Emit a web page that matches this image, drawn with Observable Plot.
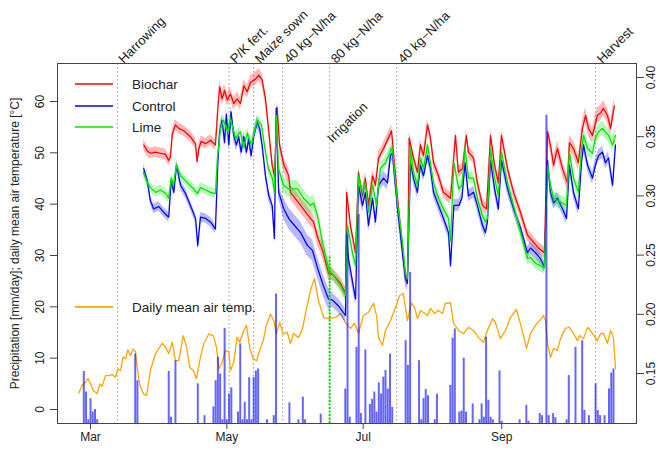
<!DOCTYPE html>
<html>
<head>
<meta charset="utf-8">
<script src="https://cdn.jsdelivr.net/npm/d3@7"></script>
<script src="https://cdn.jsdelivr.net/npm/@observablehq/plot@0.6"></script>
<style>
  html, body { margin: 0; padding: 0; background: #fff; }
  svg { display: block; }
</style>
</head>
<body>
<div id="chart"></div>
<script>
// ---- Data (day = days since 1 March; soil moisture in m3/m3; precipitation mm/day; temperature °C) ----

const biochar = [[23.8,.343],[25.4,.338],[26.8,.336],[29.1,.337],[31.3,.336],[33.6,.335],[35.0,.330],[35.8,.333],[36.6,.352],[38.0,.360],[39.5,.357],[41.7,.355],[44.7,.350],[47.0,.344],[47.7,.329],[48.5,.340],[49.5,.346],[51.5,.344],[53.7,.347],[55.9,.343],[57.0,.374],[57.8,.392],[58.9,.382],[60.0,.389],[61.2,.381],[62.6,.386],[64.1,.378],[65.6,.382],[67.1,.378],[68.6,.393],[70.1,.388],[71.6,.396],[73.4,.398],[75.3,.402],[76.8,.398],[78.3,.382],[79.8,.354],[81.3,.326],[82.3,.317],[83.5,.375],[84.6,.343],[86.5,.326],[88.7,.317],[89.5,.303],[94.0,.292],[98.4,.281],[99.8,.278],[101.6,.265],[103.8,.254],[106.5,.235],[108.7,.233],[111.9,.226],[114.1,.218],[114.6,.303],[116.3,.275],[118.6,.252],[119.9,.320],[121.7,.300],[123.0,.315],[124.4,.292],[126.2,.317],[127.5,.309],[128.9,.332],[131.1,.340],[133.3,.349],[134.7,.355],[137.4,.298],[140.9,.233],[141.8,.227],[142.6,.349],[144.5,.332],[146.3,.320],[147.6,.343],[149.0,.334],[150.8,.360],[152.1,.349],[153.5,.328],[155.7,.317],[157.9,.303],[161.1,.298],[163.3,.351],[164.6,.320],[166.4,.323],[168.2,.351],[169.1,.337],[171.4,.332],[173.1,.311],[175.4,.292],[177.2,.289],[179.0,.351],[180.8,.326],[182.5,.311],[183.9,.351],[186.6,.323],[189.3,.303],[192.4,.286],[195.5,.267],[198.2,.261],[200.4,.256],[203.1,.252],[204.5,.354],[205.8,.343],[207.2,.326],[208.9,.340],[211.2,.323],[213.4,.311],[214.3,.345],[216.1,.340],[218.3,.328],[220.1,.357],[221.5,.368],[222.8,.357],[224.6,.351],[226.8,.368],[228.2,.370],[229.5,.374],[231.3,.368],[232.7,.357],[234.4,.376]];

const control = [[23.8,.323],[25.4,.313],[26.8,.296],[28.3,.289],[30.6,.291],[32.8,.286],[35.0,.282],[36.1,.313],[37.3,.303],[38.5,.326],[40.3,.309],[42.5,.302],[44.7,.292],[47.0,.281],[48.0,.258],[49.2,.282],[51.5,.281],[53.7,.278],[55.9,.272],[57.0,.329],[57.8,.354],[58.9,.364],[60.0,.345],[60.8,.369],[61.9,.343],[62.9,.371],[64.1,.351],[65.3,.343],[66.3,.350],[67.4,.337],[68.6,.350],[69.8,.337],[70.8,.348],[71.9,.334],[73.1,.351],[74.6,.362],[75.7,.357],[76.8,.343],[78.3,.317],[79.8,.300],[81.3,.292],[82.3,.264],[83.1,.374],[84.2,.303],[86.5,.289],[88.7,.281],[89.5,.279],[94.0,.269],[97.1,.258],[99.3,.254],[101.6,.239],[104.2,.224],[106.5,.213],[108.3,.212],[111.0,.207],[114.1,.199],[114.6,.269],[115.4,.247],[118.6,.213],[119.9,.309],[121.7,.292],[123.0,.303],[124.4,.275],[126.2,.298],[127.5,.278],[128.9,.309],[131.1,.315],[132.9,.311],[134.2,.334],[135.1,.336],[137.4,.289],[139.6,.252],[140.9,.230],[141.8,.226],[143.2,.328],[144.5,.315],[146.3,.303],[147.6,.326],[149.0,.317],[150.8,.334],[152.1,.323],[153.5,.303],[155.7,.292],[157.9,.281],[160.2,.269],[161.1,.241],[162.6,.292],[164.8,.292],[166.2,.298],[167.6,.328],[169.1,.300],[171.4,.303],[173.1,.292],[175.4,.275],[176.7,.269],[177.6,.278],[179.0,.330],[180.8,.306],[182.5,.289],[183.9,.330],[186.6,.306],[189.3,.289],[192.4,.273],[195.5,.252],[196.9,.256],[199.1,.252],[201.3,.247],[203.1,.240],[204.5,.330],[205.8,.303],[207.2,.294],[208.9,.298],[211.2,.289],[213.0,.281],[214.3,.326],[216.1,.303],[218.3,.289],[219.7,.328],[220.6,.343],[222.4,.326],[224.6,.315],[225.9,.326],[227.3,.334],[229.1,.337],[230.4,.328],[231.8,.332],[233.6,.309],[234.9,.343]];

const lime = [[23.6,.320],[25.5,.311],[26.8,.307],[29.1,.303],[31.3,.305],[33.6,.302],[34.9,.298],[36.2,.315],[37.1,.309],[38.5,.326],[40.3,.317],[43.4,.311],[46.1,.306],[47.9,.302],[49.2,.307],[51.5,.305],[53.7,.303],[55.9,.302],[56.8,.332],[58.2,.357],[59.5,.364],[61.3,.354],[62.6,.365],[64.9,.349],[67.1,.354],[68.5,.341],[70.2,.353],[72.0,.343],[73.4,.355],[74.7,.364],[76.5,.360],[78.3,.337],[79.6,.323],[81.4,.315],[82.3,.303],[83.2,.368],[84.1,.323],[86.3,.309],[88.6,.306],[92.6,.306],[95.3,.298],[98.4,.292],[99.8,.294],[101.6,.283],[103.8,.261],[106.5,.239],[108.7,.233],[111.9,.224],[114.1,.216],[115.0,.275],[117.2,.252],[118.6,.241],[119.9,.317],[121.7,.303],[123.0,.311],[124.4,.286],[126.2,.309],[128.0,.292],[129.7,.323],[132.0,.328],[134.2,.338],[135.1,.340],[137.4,.294],[139.6,.261],[140.9,.235],[141.8,.230],[143.2,.340],[144.5,.320],[146.3,.309],[147.6,.332],[149.0,.323],[150.8,.343],[152.1,.328],[153.5,.311],[155.7,.298],[157.9,.289],[160.2,.281],[161.1,.262],[162.6,.328],[164.8,.306],[166.2,.309],[167.6,.340],[169.1,.315],[171.4,.315],[173.1,.298],[175.4,.283],[176.7,.278],[177.6,.281],[179.0,.340],[180.8,.315],[182.5,.300],[183.9,.337],[186.6,.311],[189.3,.292],[192.4,.269],[195.5,.247],[196.9,.248],[199.1,.243],[201.3,.241],[203.1,.239],[204.5,.326],[205.8,.309],[207.2,.298],[208.9,.296],[211.2,.294],[213.0,.292],[214.3,.337],[216.1,.315],[218.3,.303],[219.7,.340],[220.6,.351],[222.4,.340],[224.6,.336],[225.9,.349],[227.3,.354],[229.1,.357],[230.4,.354],[231.8,.351],[233.6,.343],[234.9,.351]];

// half-width of the confidence band, by period start
const ciBiochar = [[0,.0045],[57,.0055],[85,.0065],[107,.005],[204,.0065]];
const ciControl = [[0,.004],[57,.005],[85,.009],[107,.006],[142,.005]];
const ciLime    = [[0,.004],[57,.0045],[85,.007],[107,.005],[204,.006]];

const temperature = [[-5.2,3.2],[-3.7,4.7],[-2.2,5.3],[-1.2,6.0],[0,5.1],[1.2,3.7],[3.0,3.1],[4.2,5.0],[5.2,4.5],[6.7,6.6],[8.2,6.6],[9.7,6.8],[11.2,6.3],[12.2,7.9],[13.4,7.6],[14.6,10.2],[15.7,9.9],[16.7,11.6],[17.9,10.5],[19.1,11.8],[20.1,11.2],[20.9,8.2],[22.1,4.7],[23.6,3.1],[25.1,2.7],[26.8,7.6],[29.1,10.9],[32.1,12.9],[33.6,12.1],[35.0,10.9],[36.6,13.1],[38.0,9.5],[39.5,9.5],[41.5,14.4],[43.0,12.1],[44.4,8.2],[46.0,7.6],[47.4,6.0],[49.2,10.2],[50.7,12.8],[52.9,14.7],[54.9,14.4],[56.4,12.1],[57.4,7.9],[58.9,9.2],[60.4,11.5],[61.9,11.2],[62.6,7.6],[64.1,9.2],[65.6,14.1],[66.8,13.1],[68.3,15.1],[69.8,16.4],[71.3,11.8],[72.8,9.9],[74.3,9.5],[75.7,11.5],[77.3,13.4],[78.7,16.4],[80.5,18.6],[82.0,17.3],[83.2,14.7],[84.7,17.0],[86.2,14.7],[88.0,15.1],[89.5,12.8],[90.8,14.8],[93.1,14.0],[94.9,15.8],[96.2,18.7],[98.4,23.2],[100.2,25.5],[102.0,21.2],[104.3,17.9],[106.5,17.7],[109.6,17.9],[111.9,18.7],[114.1,16.9],[116.3,15.8],[118.1,16.8],[119.9,14.8],[122.1,18.3],[124.4,18.9],[126.6,20.7],[128.0,18.3],[128.9,14.0],[130.6,12.5],[132.0,15.4],[134.2,17.3],[136.5,19.9],[138.3,22.2],[140.0,22.6],[140.9,19.9],[141.8,17.3],[143.6,20.7],[145.0,19.9],[146.3,17.7],[147.7,19.3],[149.0,18.9],[150.8,18.3],[152.1,19.7],[153.9,18.7],[155.7,19.3],[157.5,18.7],[158.8,20.7],[160.2,20.7],[161.1,20.8],[162.4,16.8],[164.7,15.4],[166.9,14.8],[169.1,16.0],[171.4,15.4],[173.6,14.0],[175.8,13.1],[177.6,15.4],[179.9,17.7],[181.2,16.9],[183.4,13.8],[185.7,15.4],[187.9,17.9],[190.6,19.5],[192.8,16.0],[195.1,11.9],[196.9,14.8],[199.1,16.4],[200.9,17.3],[202.7,18.3],[203.6,17.3],[204.5,12.9],[205.8,10.1],[207.2,11.9],[208.9,11.5],[210.3,13.8],[212.5,15.8],[214.3,16.0],[216.1,14.8],[217.9,13.4],[218.8,14.4],[220.6,13.8],[222.4,16.0],[224.6,14.8],[226.8,13.4],[228.2,14.8],[229.5,14.8],[231.3,12.9],[232.7,15.4],[234.0,14.0],[234.9,8.0]];

// bar tops as read on the left axis
const precipitation = [[-3,7.4],[-2,3.4],[-1,-2.0],[0,2.1],[1,-0.5],[2,0.0],[3,-2.0],[20,10.8],[21,5.6],[35,7.4],[36,-1.5],[38,9.5],[48,5.0],[51,-1.2],[55,0.5],[56,5.6],[57,10.2],[58,6.9],[59,-2.0],[60,15.8],[61,-2.0],[62,3.0],[63,4.2],[66,-0.5],[67,12.8],[68,-2.0],[69,1.4],[70,-2.0],[71,6.2],[72,-2.0],[73,6.2],[74,7.5],[75,7.9],[79,-2.0],[82,-1.2],[83,22.5],[89,1.3],[93,-2.0],[95,2.4],[96,-2.0],[103,-0.9],[114,4.0],[115,34.0],[116,-1.5],[119,12.1],[120,38.0],[121,-0.8],[123,11.6],[125,1.0],[126,2.0],[127,3.4],[128,-0.5],[129,5.2],[130,3.0],[131,6.3],[132,7.6],[133,4.0],[134,10.8],[135,0.4],[141,13.4],[142,8.6],[143,26.7],[147,9.5],[148,-2.0],[149,2.1],[150,3.9],[151,2.7],[154,-2.0],[155,3.0],[161,4.7],[162,13.9],[163,15.7],[165,-0.5],[166,-0.3],[167,10.0],[168,-0.5],[171,1.1],[174,-2.0],[175,1.1],[176,-1.5],[177,14.1],[178,1.8],[179,-1.5],[180,-2.0],[183,7.5],[184,-2.3],[192,-2.0],[195,0.8],[196,-2.3],[201,-0.8],[202,-1.2],[204,57.3],[205,-1.2],[207,-0.8],[208,-1.6],[213,-2.0],[214,6.6],[217,12.1],[220,13.4],[221,-0.2],[223,-1.2],[226,5.0],[227,-0.2],[228,-1.2],[230,-1.2],[232,4.0],[233,7.1],[234,7.9]];

const irrigation = [[107, 30.0]];

const events = [[12,"Harrowing"],[62,"P/K fert."],[73,"Maize sown"],[86,"40 kg\u2212N/ha"],[107,"80 kg\u2212N/ha"],[137,"40 kg\u2212N/ha"],[226,"Harvest"]];

const leftTicks = [0, 10, 20, 30, 40, 50, 60];
const rightTicks = [0.15, 0.20, 0.25, 0.30, 0.35, 0.40];
const monthTicks = [Date.UTC(2013,2,1), Date.UTC(2013,4,1), Date.UTC(2013,6,1), Date.UTC(2013,8,1)].map(t => new Date(t));

// ---- Layout and scales ----
const FONT = "'Liberation Sans', Arial, Helvetica, sans-serif";
const W = 657, H = 455;
const M = {left: 57, right: 21, top: 63, bottom: 32};
const start = Date.UTC(2013, 2, 1);
const day = d => new Date(start + d * 864e5);

const yLim = [-2.73, 67.4];        // left axis: mm/day and °C
const smLim = [0.1078, 0.4118];    // right axis: volumetric soil moisture
const sm = s => yLim[0] + (s - smLim[0]) / (smLim[1] - smLim[0]) * (yLim[1] - yLim[0]);

const halfWidth = (ci, d) => { let w = ci[0][1]; for (const [s, v] of ci) if (d >= s) w = v; return w; };

const series = [
  {name: "Biochar", color: "#ff0000", values: biochar, ci: ciBiochar},
  {name: "Control", color: "#0000ff", values: control, ci: ciControl},
  {name: "Lime",    color: "#00e600", values: lime,    ci: ciLime}
];
const rowsOf = s => s.values.map(([d, v]) => {
  const w = halfWidth(s.ci, d);
  return {date: day(d), v: sm(v), lo: sm(v - w), hi: sm(v + w)};
});

const seriesMarks = series.flatMap(s => {
  const r = rowsOf(s);
  return [
    Plot.areaY(r, {x: "date", y1: "lo", y2: "hi", fill: s.color, fillOpacity: 0.28}),
    Plot.line(r, {x: "date", y: "v", stroke: s.color, strokeWidth: 1.25})
  ];
});

const chart = Plot.plot({
  width: W,
  height: H,
  marginLeft: M.left,
  marginRight: M.right,
  marginTop: M.top,
  marginBottom: M.bottom,
  style: {fontFamily: FONT, fontSize: "12px", color: "#222", background: "#fff"},
  x: {type: "utc", domain: [day(-14.77), day(244.3)]},
  y: {domain: yLim},
  marks: [
    // management events
    Plot.ruleX(events, {x: d => day(d[0]), stroke: "#9a9a9a", strokeWidth: 1, strokeDasharray: "1.5,2.5"}),
    Plot.text(events, {x: d => day(d[0]), text: d => d[1], frameAnchor: "top", dy: -6, rotate: -45,
      textAnchor: "start", fontSize: 13, fill: "#222"}),

    // air temperature
    Plot.line(temperature, {x: d => day(d[0]), y: d => d[1], stroke: "#ffa500", strokeWidth: 1.3}),

    // soil moisture with confidence bands
    ...seriesMarks,

    // precipitation and irrigation
    Plot.ruleX(precipitation, {x: d => day(d[0]), y1: yLim[0], y2: d => d[1], stroke: "#0000ff", strokeOpacity: 0.6, strokeWidth: 2}),
    Plot.ruleX(irrigation, {x: d => day(d[0]), y1: yLim[0], y2: d => d[1], stroke: "#00dd00", strokeWidth: 2, strokeDasharray: "2,1.5"}),
    Plot.text(irrigation, {x: d => day(d[0]), y: 52.4, text: () => "Irrigation", rotate: -45, textAnchor: "start", fontSize: 13, fill: "#222"}),

    Plot.frame({stroke: "#444"}),

    // left axis
    Plot.axisY({ticks: leftTicks, anchor: "left", tickSize: 7, tickFormat: () => "", label: null, stroke: "#444"}),
    Plot.text(leftTicks, {y: d => d, text: d => String(d), frameAnchor: "left", dx: -17, rotate: -90, textAnchor: "middle", fontSize: 12, fill: "#222"}),
    Plot.text(["Precipitation [mm/day]; daily mean air temperature [\u00b0C]"], {frameAnchor: "left", dx: -42, rotate: -90, textAnchor: "middle", fontSize: 12, fill: "#222"}),

    // right axis (soil moisture)
    Plot.axisY({ticks: rightTicks.map(sm), anchor: "right", tickSize: 7, tickFormat: () => "", label: null, stroke: "#444"}),
    Plot.text(rightTicks, {y: d => sm(d), text: d => d.toFixed(2), frameAnchor: "right", dx: 15, rotate: -90, textAnchor: "middle", fontSize: 12, fill: "#222"}),

    // bottom axis
    Plot.axisX({ticks: monthTicks, anchor: "bottom", tickSize: 6, tickPadding: 3, tickFormat: d3.utcFormat("%b"), label: null, fontSize: 12, stroke: "#444"})
  ]
});

// legends
const svg = d3.select(chart);
const yScale = chart.scale("y");
const legendRows = [
  {label: "Biochar", color: "#ff0000", y: M.top + 21},
  {label: "Control", color: "#0000ff", y: M.top + 43},
  {label: "Lime", color: "#00e600", y: M.top + 64},
  {label: "Daily mean air temp.", color: "#ffa500", y: yScale.apply(19.9)}
];
const lg = svg.append("g")
  .attr("font-family", FONT).attr("font-size", 13.5).attr("fill", "#222").attr("text-anchor", "start");
for (const r of legendRows) {
  lg.append("line").attr("x1", M.left + 18).attr("x2", M.left + 56).attr("y1", r.y).attr("y2", r.y)
    .attr("stroke", r.color).attr("stroke-width", 1.6);
  lg.append("text").attr("x", M.left + 75).attr("y", r.y).attr("dy", "0.35em").attr("text-anchor", "start").text(r.label);
}

document.getElementById("chart").appendChild(chart);
</script>
</body>
</html>
